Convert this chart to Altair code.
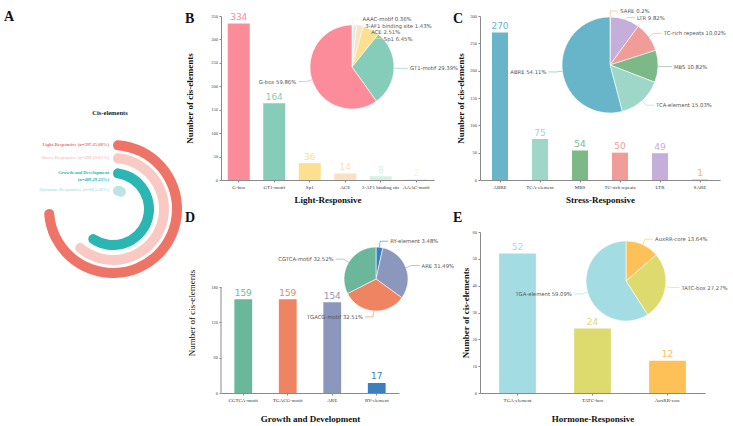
import math

import altair as alt
import pandas as pd

# ---------------- data ----------------
GROUPS = ["Light-Responsive", "Stress-Responsive", "Growth and Development", "Hormone-Responsive"]
GROUP_N = [597, 499, 489, 88]
GROUP_PCT = ["35.68%", "29.83%", "29.23%", "5.26%"]

LIGHT_NAMES = ["G-box", "GT1-motif", "Sp1", "ACE", "3-AF1 binding site", "AAAC-motif"]
LIGHT_COUNTS = [334, 164, 36, 14, 8, 2]
LIGHT_PCTS = [59.86, 29.39, 6.45, 2.51, 1.43, 0.36]

STRESS_NAMES = ["ABRE", "TCA-element", "MBS", "TC-rich repeats", "LTR", "SARE"]
STRESS_COUNTS = [270, 75, 54, 50, 49, 1]
STRESS_PCTS = [54.11, 15.03, 10.82, 10.02, 9.82, 0.2]

GROWTH_NAMES = ["CGTCA-motif", "TGACG-motif", "ARE", "RY-element"]
GROWTH_COUNTS = [159, 159, 154, 17]
GROWTH_PCTS = [32.52, 32.51, 31.49, 3.48]

HORMONE_NAMES = ["TGA-element", "TATC-box", "AuxRR-core"]
HORMONE_COUNTS = [52, 24, 12]
HORMONE_PCTS = [59.09, 27.27, 13.64]

# ---------------- styles ----------------
GROUP_COLORS = ["#EF7468", "#F9CAC3", "#2BB6B3", "#BDE3E3"]
LIGHT_COLORS = ["#FD8C9A", "#86CDB9", "#FDE08F", "#FBE1C3", "#D6F1E3", "#FBF0DC"]
STRESS_COLORS = ["#68B5C9", "#9ED6C8", "#7CB987", "#F09C99", "#C5AEDA", "#F9B26D"]
GROWTH_COLORS = ["#6AB79C", "#EE8461", "#8C97BD", "#3B7FC1"]
HORMONE_COLORS = ["#A4DCE3", "#DEDB6E", "#FDC158"]

SERIF = "Liberation Serif"
SANS = "DejaVu Sans"
AXIS_GREY = "#8a8a8a"
LABEL_GREY = "#555555"
INK = "#111111"

RING_RADII = [64, 51, 36, 19]
RING_WIDTH = 10
RING_SWEEP = 270  # degrees covered by the largest group


def pie_label_tables(names, pcts, colors, cx, cy, r, len1=6, len2=8, gap=6.5):
    """Leader-line points and label anchors for a pie drawn clockwise from 12 o'clock."""
    total = float(sum(pcts))
    recs, acc = [], 0.0
    for name, p, col in zip(names, pcts, colors):
        mid = (acc + p / 2.0) / total * 2 * math.pi
        acc += p
        s, c = math.sin(mid), -math.cos(mid)
        recs.append(dict(name=name, color=col, side=1 if s >= 0 else -1,
                         x0=cx + r * s, y0=cy + r * c,
                         x1=cx + (r + len1) * s, y1=cy + (r + len1) * c,
                         label=f"{name} {p:g}%"))
    for side in (1, -1):
        grp = sorted([d for d in recs if d["side"] == side], key=lambda d: d["y1"])
        for a, b in zip(grp, grp[1:]):
            if b["y1"] < a["y1"] + gap:
                b["y1"] = a["y1"] + gap
    lines, texts = [], []
    for d in recs:
        x2 = d["x1"] + d["side"] * len2
        pts = [(d["x0"], d["y0"]), (d["x1"], d["y1"]), (x2, d["y1"])]
        for k, (lx, ly) in enumerate(pts):
            lines.append(dict(name=d["name"], color=d["color"], k=k, lx=lx, ly=ly))
        texts.append(dict(name=d["name"], side=d["side"], label=d["label"],
                          tx=x2 + d["side"] * 2, ty=d["y1"]))
    return pd.DataFrame(lines), pd.DataFrame(texts)


ONE = pd.DataFrame({"k": [0]})


def bar_panel(letter, names, counts, pcts, colors, title, width, height, ymax, ystep,
              band_pad, pie_center, pie_r, letter_pos, ytitle_pad, xtitle_pad,
              ytitle_weight="bold", axis_height=None):
    df = pd.DataFrame({"name": names, "count": counts, "color": colors})
    pie = pd.DataFrame({"name": names[::-1], "pct": pcts[::-1], "color": colors[::-1],
                        "porder": list(range(len(names)))})
    lines, texts = pie_label_tables(names[::-1], pcts[::-1], colors[::-1],
                                    pie_center[0], pie_center[1], pie_r)
    ydom = ymax if axis_height is None else ymax * height / axis_height

    x_enc = alt.X("name:N", sort=names,
                  scale=alt.Scale(paddingInner=band_pad, paddingOuter=band_pad / 2),
                  axis=alt.Axis(title=title, labelAngle=0, labelFont=SERIF, labelFontSize=5,
                                labelColor="#333", labelPadding=2, tickSize=2,
                                domainColor=AXIS_GREY, tickColor=AXIS_GREY,
                                titleFont=SERIF, titleFontSize=9, titleFontWeight="bold",
                                titleColor=INK, titlePadding=xtitle_pad))
    y_enc = alt.Y("count:Q", scale=alt.Scale(domain=[0, ydom], nice=False),
                  axis=alt.Axis(values=list(range(0, ymax + 1, ystep)), grid=False,
                                domain=axis_height is None, domainColor=AXIS_GREY,
                                tickColor=AXIS_GREY, tickSize=2, labelFont=SERIF,
                                labelFontSize=4.5, labelColor="#444", labelPadding=1.5,
                                title="Number of cis-elements", titleFont=SERIF,
                                titleFontSize=9, titleFontWeight=ytitle_weight,
                                titleColor=INK, titlePadding=ytitle_pad))
    colr = alt.Color("color:N", scale=None)

    base = alt.Chart(df).encode(x=x_enc, y=y_enc, color=colr)
    bars = base.mark_bar()
    values = base.mark_text(baseline="bottom", dy=-1.5, font=SANS, fontSize=9).encode(
        text="count:Q")

    slices = alt.Chart(pie).mark_arc(radius=pie_r, stroke="white", strokeWidth=0.6).encode(
        theta=alt.Theta("pct:Q", stack=True),
        order=alt.Order("porder:Q"),
        color=colr,
        x=alt.value(pie_center[0]),
        y=alt.value(pie_center[1]),
    )
    leaders = alt.Chart(lines).mark_line(strokeWidth=0.6).encode(
        x=alt.X("lx:Q", scale=None, axis=None),
        y=alt.Y("ly:Q", scale=None, axis=None),
        detail="name:N",
        order=alt.Order("k:Q"),
        color=colr,
    )
    lab_common = dict(font=SANS, fontSize=5.3, color=LABEL_GREY, baseline="middle")
    lab_enc = dict(x=alt.X("tx:Q", scale=None, axis=None),
                   y=alt.Y("ty:Q", scale=None, axis=None), text="label:N")
    right_labels = alt.Chart(texts).transform_filter("datum.side > 0").mark_text(
        align="left", **lab_common).encode(**lab_enc)
    left_labels = alt.Chart(texts).transform_filter("datum.side < 0").mark_text(
        align="right", **lab_common).encode(**lab_enc)
    tag = alt.Chart(ONE).mark_text(text=letter, font=SERIF, fontSize=14, fontWeight="bold",
                                   align="left", baseline="alphabetic", color=INK).encode(
        x=alt.value(letter_pos[0]), y=alt.value(letter_pos[1]))

    layers = [bars, values, slices, leaders, right_labels, left_labels, tag]
    if axis_height is not None:
        # y axis line drawn only over the labelled range
        layers.append(alt.Chart(ONE).mark_rule(color=AXIS_GREY, strokeWidth=1).encode(
            x=alt.value(0), y=alt.datum(0), y2=alt.datum(ymax)))
    return alt.layer(*layers).properties(width=width, height=height)


# ---------------- panel A: radial bars of the four groups ----------------
A_CX, A_CY = 113, 193
arc_max = max(GROUP_N) * 360.0 / RING_SWEEP
labels = []
for g, n, p in zip(GROUPS, GROUP_N, GROUP_PCT):
    txt = f"{g} (n={n},{p})"
    labels.append(f"{g}\n(n={n},{p})" if len(txt) > 34 else txt)
rings = pd.DataFrame({"group": GROUPS, "n": GROUP_N, "color": GROUP_COLORS, "label": labels,
                      "r_mid": RING_RADII})
rings["r_out"] = rings["r_mid"] + RING_WIDTH / 2
rings["r_in"] = rings["r_mid"] - RING_WIDTH / 2
rings["zero"] = 0

frame = alt.Chart(ONE).mark_rect(opacity=0).encode(
    x=alt.value(0), x2=alt.value(1), y=alt.value(-16), y2=alt.value(0))
ring_arcs = alt.Chart(rings).mark_arc(cornerRadius=RING_WIDTH / 2).encode(
    theta=alt.Theta("n:Q", scale=alt.Scale(domain=[0, arc_max], range=[0, 2 * math.pi])),
    theta2=alt.Theta2("zero:Q"),
    radius=alt.Radius("r_out:Q", scale=None),
    radius2=alt.Radius2("r_in:Q"),
    color=alt.Color("color:N", scale=None),
    x=alt.value(A_CX), y=alt.value(A_CY),
)
ring_labels = alt.Chart(rings).mark_text(
    theta=0, align="right", baseline="middle", dx=-4, font=SERIF, fontSize=4.6,
    fontWeight="bold", lineBreak="\n").encode(
    radius=alt.Radius("r_mid:Q", scale=None),
    text="label:N",
    color=alt.Color("color:N", scale=None),
    x=alt.value(A_CX), y=alt.value(A_CY),
)
a_title = alt.Chart(ONE).mark_text(text="Cis-elements", font=SERIF, fontSize=6.5,
                                   fontWeight="bold", color="#222").encode(
    x=alt.value(110), y=alt.value(97))
a_tag = alt.Chart(ONE).mark_text(text="A", font=SERIF, fontSize=14, fontWeight="bold",
                                 align="left", baseline="alphabetic", color=INK).encode(
    x=alt.value(4), y=alt.value(5))
panel_a = alt.layer(frame, ring_arcs, ring_labels, a_title, a_tag).properties(
    width=175, height=164)

blank = alt.Chart(ONE).mark_text(text="").encode(
    x=alt.value(0), y=alt.value(0)).properties(width=10, height=10)

panel_b = bar_panel("B", LIGHT_NAMES, LIGHT_COUNTS, LIGHT_PCTS, LIGHT_COLORS,
                    "Light-Responsive", 213, 164, 350, 50, 0.38, (131, 51), 42,
                    (-36, 7), 16, 6)
panel_c = bar_panel("C", STRESS_NAMES, STRESS_COUNTS, STRESS_PCTS, STRESS_COLORS,
                    "Stress-Responsive", 240, 164, 300, 50, 0.6, (130, 49), 48,
                    (-27, 7), 4, 6)
panel_d = bar_panel("D", GROWTH_NAMES, GROWTH_COUNTS, GROWTH_PCTS, GROWTH_COLORS,
                    "Growth and Development", 178, 161, 180, 30, 0.6, (155, 47), 32,
                    (-36, -10), 14, 12, ytitle_weight="normal", axis_height=106)
panel_e = bar_panel("E", HORMONE_NAMES, HORMONE_COUNTS, HORMONE_PCTS, HORMONE_COLORS,
                    "Hormone-Responsive", 225, 161, 60, 10, 0.51, (146, 49), 40,
                    (-27, -10), 2, 12)

chart = alt.concat(
    panel_a, panel_b, panel_c, blank, panel_d, panel_e,
    columns=3,
    spacing=alt.RowColnumber(row=52, column=46),
    bounds="flush",
    align="each",
).properties(padding=0, background="white").configure_view(stroke=None)

chart.save("out.html", embed_options={"renderer": "svg", "actions": False})
